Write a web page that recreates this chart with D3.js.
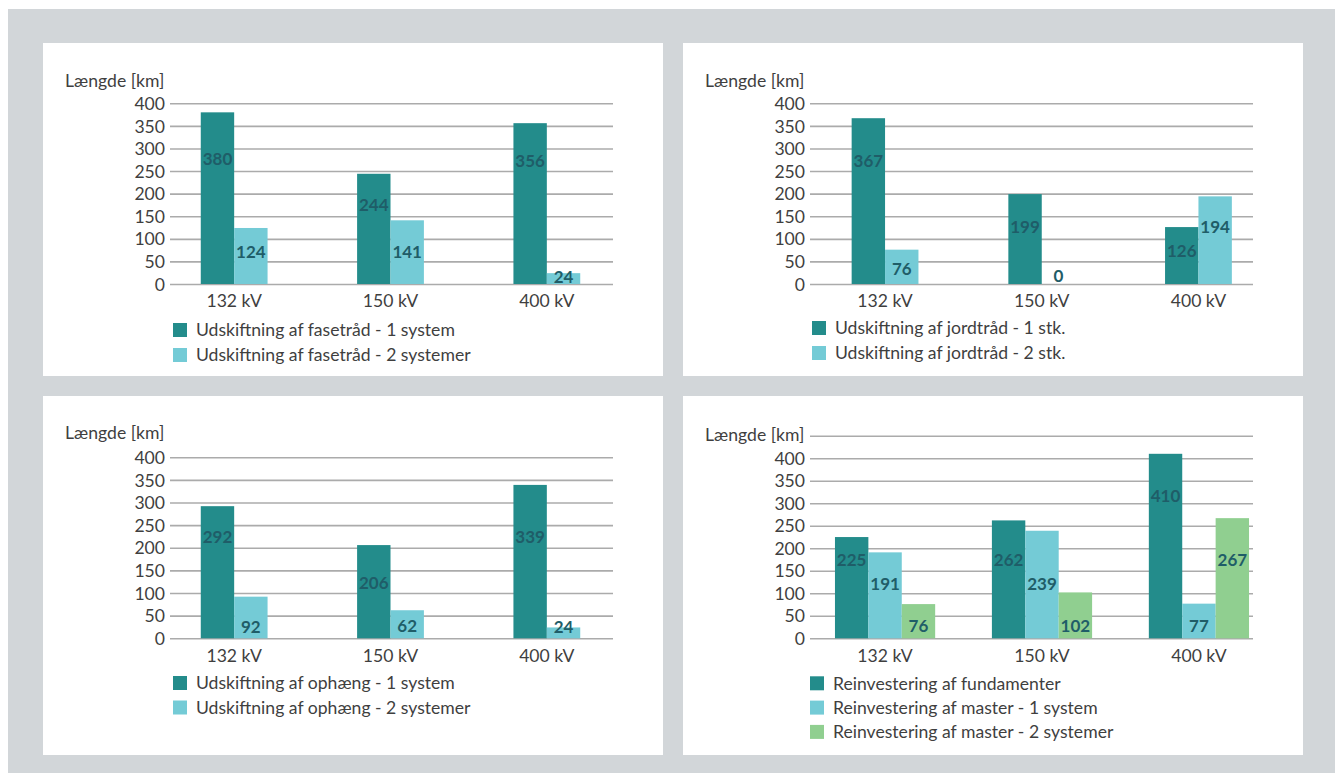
<!DOCTYPE html>
<html>
<head>
<meta charset="utf-8">
<script src="https://cdn.jsdelivr.net/npm/d3@7"></script>
<style>
  html, body { margin: 0; padding: 0; background: #ffffff; }
  svg { display: block; }
  text { font-family: Lato, "Open Sans", sans-serif; }
</style>
</head>
<body>
<svg id="chart" width="1343" height="773"></svg>
<script>
// ---- Data ----
const categories = ["132 kV", "150 kV", "400 kV"];

const fasetraad1System = [380, 244, 356];
const fasetraad2Systemer = [124, 141, 24];

const jordtraad1Stk = [367, 199, 126];
const jordtraad2Stk = [76, 0, 194];

const ophaeng1System = [292, 206, 339];
const ophaeng2Systemer = [92, 62, 24];

const fundamenter = [225, 262, 410];
const master1System = [191, 239, 77];
const master2Systemer = [76, 102, 267];

const yTicks = [0, 50, 100, 150, 200, 250, 300, 350, 400];
const yTicksWide = [0, 50, 100, 150, 200, 250, 300, 350, 400, 450];
const yTitle = "Længde [km]";

// ---- Styling ----
const DARK = "#238c8b";
const LIGHT = "#74cbd6";
const GREEN = "#90cf90";
const GRID = "#ababab";
const TEXT = "#3f3f3f";
const LABEL = "#1f5d68";
const BAR_W = 33.4;
const FS = 17.6;

// Panel layout; labelAt gives the height (in km on the axis) where each value label sits.
const panels = [
  {
    box: [43, 43, 620, 333],
    grid: [170, 613], yRange: [284, 103.3], yMax: 400, ticks: yTicks,
    band: [156, 625],
    titleY: 87,
    series: [
      { name: "Udskiftning af fasetråd - 1 system", values: fasetraad1System, color: DARK, labelAt: [278, 175, 273] },
      { name: "Udskiftning af fasetråd - 2 systemer", values: fasetraad2Systemer, color: LIGHT, labelAt: [71.5, 71.5, 16] }
    ],
    legend: { x: 173, y: 330, dy: 25 }
  },
  {
    box: [683, 43, 620, 333],
    grid: [810, 1253], yRange: [284, 103.3], yMax: 400, ticks: yTicks,
    band: [806.7, 1276.8],
    titleY: 87,
    series: [
      { name: "Udskiftning af jordtråd - 1 stk.", values: jordtraad1Stk, color: DARK, labelAt: [273, 127, 74] },
      { name: "Udskiftning af jordtråd - 2 stk.", values: jordtraad2Stk, color: LIGHT, labelAt: [32.5, 18.4, 125.5] }
    ],
    legend: { x: 812, y: 328, dy: 25 }
  },
  {
    box: [43, 396, 620, 359],
    grid: [170, 613], yRange: [638.3, 457.3], yMax: 400, ticks: yTicks,
    band: [156, 625],
    titleY: 439,
    series: [
      { name: "Udskiftning af ophæng - 1 system", values: ophaeng1System, color: DARK, labelAt: [224.5, 123, 224.5] },
      { name: "Udskiftning af ophæng - 2 systemer", values: ophaeng2Systemer, color: LIGHT, labelAt: [25.6, 27, 25.6] }
    ],
    legend: { x: 173, y: 683, dy: 24.5 }
  },
  {
    box: [683, 396, 620, 359],
    grid: [810, 1253], yRange: [638.3, 458.3], yMax: 400, ticks: yTicksWide, hideTop: true,
    band: [806.6, 1277.4],
    titleY: 441,
    series: [
      { name: "Reinvestering af fundamenter", values: fundamenter, color: DARK, labelAt: [174, 174, 316] },
      { name: "Reinvestering af master - 1 system", values: master1System, color: LIGHT, labelAt: [122, 122, 27] },
      { name: "Reinvestering af master - 2 systemer", values: master2Systemer, color: GREEN, labelAt: [27, 27, 174] }
    ],
    legend: { x: 810, y: 683.3, dy: 24.3 }
  }
];

const svg = d3.select("#chart");

// page background
svg.append("rect").attr("x", 0).attr("y", 0).attr("width", 1343).attr("height", 773).attr("fill", "#ffffff");
svg.append("rect").attr("x", 8).attr("y", 9).attr("width", 1327).attr("height", 764).attr("fill", "#d2d6d9");

panels.forEach(p => {
  const [bx, by, bw, bh] = p.box;
  const g = svg.append("g");
  g.append("rect").attr("x", bx).attr("y", by).attr("width", bw).attr("height", bh).attr("fill", "#ffffff");

  const y = d3.scaleLinear().domain([0, p.yMax]).range(p.yRange);

  // gridlines (axis with full-width ticks)
  const axis = d3.axisLeft(y).tickValues(p.ticks).tickSize(-(p.grid[1] - p.grid[0])).tickPadding(5)
    .tickFormat(d => (p.hideTop && d === d3.max(p.ticks)) ? "" : d3.format("d")(d));
  const ax = g.append("g").attr("transform", `translate(${p.grid[0]},0)`).call(axis);
  ax.select(".domain").remove();
  ax.selectAll(".tick line").attr("stroke", GRID).attr("stroke-width", 1.6);
  ax.selectAll(".tick text").attr("fill", TEXT).attr("font-size", FS).attr("x", -5)
    .attr("dy", "0.35em");

  // axis title
  g.append("text").attr("x", bx + 22).attr("y", p.titleY).attr("fill", TEXT).attr("font-size", FS).text(yTitle);

  // bars
  const n = p.series.length;
  const x0 = d3.scaleBand().domain(categories).range(p.band);
  const step = (p.band[1] - p.band[0]) / categories.length;
  const pin = 1 - (n * BAR_W) / step;
  x0.paddingInner(pin).paddingOuter(pin / 2);
  const x1 = d3.scaleBand().domain(d3.range(n)).range([0, x0.bandwidth()]);

  p.series.forEach((s, si) => {
    g.append("g").selectAll("rect").data(s.values).join("rect")
      .attr("x", (d, i) => x0(categories[i]) + x1(si))
      .attr("y", d => y(d))
      .attr("width", x1.bandwidth())
      .attr("height", d => y(0) - y(d))
      .attr("fill", s.color);
  });

  // value labels
  p.series.forEach((s, si) => {
    g.append("g").selectAll("text").data(s.values).join("text")
      .attr("x", (d, i) => x0(categories[i]) + x1(si) + x1.bandwidth() / 2)
      .attr("y", (d, i) => y(s.labelAt[i]))
      .attr("dy", "0.36em")
      .attr("text-anchor", "middle")
      .attr("font-size", 17).attr("font-weight", 700)
      .attr("fill", LABEL)
      .text(d => d);
  });

  // category labels
  g.append("g").selectAll("text").data(categories).join("text")
    .attr("x", d => x0(d) + x0.bandwidth() / 2)
    .attr("y", y(0) + 17)
    .attr("dy", "0.36em")
    .attr("text-anchor", "middle")
    .attr("font-size", FS).attr("fill", TEXT)
    .text(d => d);

  // legend
  const lg = g.append("g");
  p.series.forEach((s, si) => {
    const cy = p.legend.y + si * p.legend.dy;
    lg.append("rect").attr("x", p.legend.x).attr("y", cy - 7).attr("width", 14).attr("height", 14).attr("fill", s.color);
    lg.append("text").attr("x", p.legend.x + 23).attr("y", cy).attr("dy", "0.36em")
      .attr("font-size", FS).attr("fill", TEXT).text(s.name);
  });
});
</script>
</body>
</html>
